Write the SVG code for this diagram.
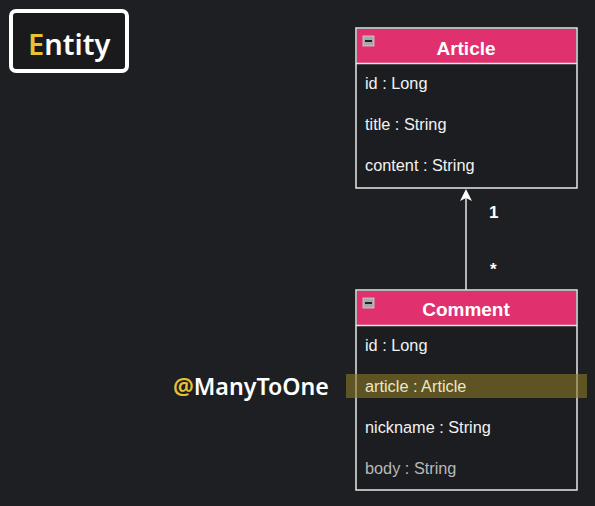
<svg xmlns="http://www.w3.org/2000/svg" width="595" height="506" viewBox="0 0 595 506">
<defs>
<style>
.hdr{fill:#e0306e;}
.box{fill:#1c1d20;stroke:#e8e8e8;stroke-width:1.5;}
.title{font-family:"Liberation Sans",Arial,sans-serif;font-weight:bold;font-size:19px;fill:#ffffff;text-anchor:middle;}
.attr{font-family:"Liberation Sans",Arial,sans-serif;font-size:16.3px;fill:#f2f2f2;}
.mult{font-family:"Liberation Sans",Arial,sans-serif;font-weight:bold;font-size:17px;fill:#ffffff;}
.icon{fill:#a8a8a8;stroke:#d0d0d0;stroke-width:0.8;}
</style>
</defs>
<rect width="595" height="506" fill="#1e1f22"/>
<g id="entity-title">
<rect x="11" y="11" width="116" height="60" rx="5" fill="#1a1a1c" stroke="#ffffff" stroke-width="4"/>
<text x="28" y="55" font-family="'Noto Sans','Open Sans',sans-serif" font-size="29" font-weight="600" fill="#ffffff"><tspan fill="#e6c234">E</tspan>ntity</text>
</g>
<g id="connectors">
<line x1="466" y1="290" x2="466" y2="196" stroke="#e8e8e8" stroke-width="1.5"/>
<path d="M466,189 L472,201 L466,198 L460,201 Z" fill="#ffffff"/>
<text class="mult" x="489" y="218">1</text>
<text class="mult" x="490" y="275">*</text>
</g>
<g id="article">
<rect class="box" x="356" y="28" width="221" height="160"/>
<rect class="hdr" x="357" y="29" width="219" height="34"/>
<line x1="356" y1="63.5" x2="577" y2="63.5" stroke="#e8e8e8" stroke-width="1.5"/>
<rect class="icon" x="363" y="36" width="11" height="10"/>
<rect x="365" y="40" width="7" height="2" fill="#222"/>
<text class="title" x="466" y="55">Article</text>
<text class="attr" x="365" y="89">id : Long</text>
<text class="attr" x="365" y="130">title : String</text>
<text class="attr" x="365" y="171">content : String</text>
</g>
<g id="comment">
<rect class="box" x="356" y="290" width="221" height="200"/>
<rect class="hdr" x="357" y="291" width="219" height="34"/>
<line x1="356" y1="325.5" x2="577" y2="325.5" stroke="#e8e8e8" stroke-width="1.5"/>
<rect class="icon" x="363" y="298" width="11" height="10"/>
<rect x="365" y="302" width="7" height="2" fill="#222"/>
<text class="title" x="466" y="316">Comment</text>
<text class="attr" x="365" y="351">id : Long</text>
<rect x="346" y="374" width="241" height="24" fill="#8a7a26" fill-opacity="0.6"/>
<text class="attr" x="365" y="392" style="fill:#ece6c8">article : Article</text>
<text class="attr" x="365" y="433">nickname : String</text>
<text class="attr" x="365" y="474" style="fill:#b8b8b8">body : String</text>
</g>
<g id="annotation">
<text x="173" y="395" font-family="'Noto Sans','Open Sans',sans-serif" font-size="23.2" font-weight="600" fill="#ffffff"><tspan fill="#e6c234">@</tspan>ManyToOne</text>
</g>
</svg>
